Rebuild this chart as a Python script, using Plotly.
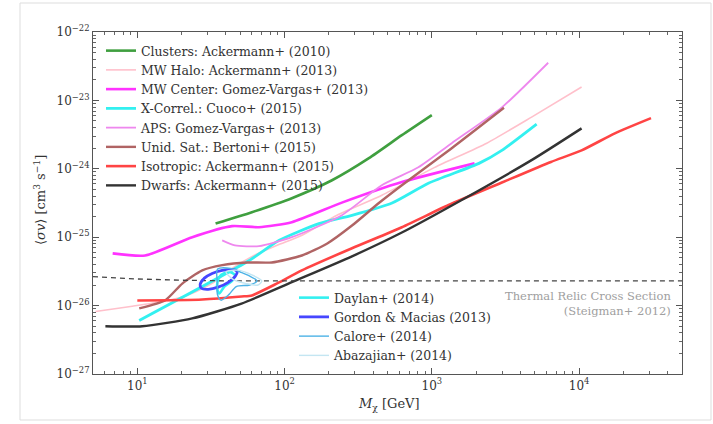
import plotly.graph_objects as go

# ---- Limits on the DM annihilation cross section <sigma v> [cm^3 s^-1] vs mass [GeV] ----
clusters_m = [34, 60, 112, 210, 374, 626, 1000]
clusters_sv = [1.58e-25, 2.32e-25, 3.72e-25, 6.8e-25, 1.43e-24, 3.1e-24, 6.1e-24]

mwhalo_m = [5.2, 9.25, 14.8, 21.8, 32.2, 44, 60.3, 89, 131.5, 227, 458, 1047, 2360, 4760, 10400]
mwhalo_sv = [8.2e-27, 9.8e-27, 1.15e-26, 1.41e-26, 2.11e-26, 3.5e-26, 5.25e-26, 7.6e-26,
             1.07e-25, 2.09e-25, 4.1e-25, 1.05e-24, 2.37e-24, 5.7e-24, 1.57e-23]

mwcenter_m = [6.8, 11.3, 23.6, 44, 67, 112, 245, 626, 1950]
mwcenter_sv = [5.8e-26, 5.4e-26, 1.0e-25, 1.45e-25, 1.4e-25, 1.66e-25, 3.2e-25, 6.4e-25, 1.2e-24]

xcorrel_m = [10.3, 57.5, 92, 171, 287, 537, 955, 2090, 2990, 5150]
xcorrel_sv = [6.07e-27, 4.57e-26, 9.0e-26, 1.58e-25, 2.09e-25, 3.16e-25, 6.2e-25, 1.2e-24, 1.86e-24, 4.5e-24]

aps_m = [37.7, 46, 67, 112, 245, 457, 810, 1365, 2990, 6170]
aps_sv = [9.0e-26, 7.6e-26, 7.4e-26, 1.0e-25, 2.1e-25, 5.75e-25, 1.05e-24, 2.37e-24, 7.9e-24, 3.55e-23]

unidsat_m = [10.3, 15.5, 20.2, 27.6, 37.7, 55.7, 82, 131, 195, 287, 437, 626, 1365, 3090]
unidsat_sv = [9.1e-27, 1.2e-26, 2.1e-26, 3.27e-26, 3.9e-26, 4.27e-26, 4.27e-26, 5.4e-26,
              8.1e-26, 1.48e-25, 3.16e-25, 5.75e-25, 2.0e-24, 7.8e-24]

iso_m = [10, 27.6, 51, 60, 89, 131, 287, 626, 1300, 2990, 6440, 10400, 17500, 30800]
iso_sv = [1.19e-26, 1.23e-26, 1.36e-26, 1.41e-26, 2.11e-26, 3.27e-26, 6.9e-26, 1.4e-25,
          2.95e-25, 6.3e-25, 1.26e-24, 1.86e-24, 3.3e-24, 5.5e-24]

dwarfs_m = [6.07, 10.8, 23.6, 51, 112, 287, 626, 1585, 4790, 10400]
dwarfs_sv = [5.0e-27, 5.0e-27, 6.5e-27, 1.07e-26, 2.2e-26, 5.25e-26, 1.17e-25, 3.47e-25, 1.35e-24, 3.9e-24]

# Galactic-centre excess fits (closed contours)
gordon_m = [26.7, 28.4, 32.2, 37.7, 44, 47.6, 46.2, 41.4, 35.4, 30.3, 27.2, 26.7]
gordon_sv = [2.04e-26, 2.5e-26, 2.95e-26, 3.27e-26, 3.38e-26, 3.16e-26, 2.68e-26, 2.19e-26,
             1.86e-26, 1.73e-26, 1.79e-26, 2.04e-26]

daylan_m = [35, 37, 42, 46, 44, 39, 36, 35, 35]
daylan_sv = [2.2e-26, 2.8e-26, 3.1e-26, 2.8e-26, 2.3e-26, 1.9e-26, 1.5e-26, 1.7e-26, 2.2e-26]

calore_m = [35, 43, 50, 58, 65, 58, 47, 42, 37, 35, 35, 35]
calore_sv = [3.4e-26, 3.5e-26, 3.1e-26, 2.7e-26, 2.3e-26, 2.0e-26, 1.9e-26, 1.46e-26,
             1.2e-26, 1.45e-26, 2.1e-26, 3.4e-26]

abaz_m = [40, 48, 58, 70, 66, 55, 45, 40]
abaz_sv = [3.1e-26, 3.3e-26, 2.9e-26, 2.3e-26, 2.0e-26, 2.1e-26, 2.4e-26, 3.1e-26]

# Thermal relic cross section
relic_m = [5, 10, 20, 40, 100, 1000, 10000, 50000]
relic_sv = [2.65e-26, 2.45e-26, 2.35e-26, 2.3e-26, 2.3e-26, 2.3e-26, 2.3e-26, 2.3e-26]

x_tickvals = [10, 100, 1000, 10000]
x_ticktext = ["10<sup>1</sup>", "10<sup>2</sup>", "10<sup>3</sup>", "10<sup>4</sup>"]
y_tickvals = [1e-27, 1e-26, 1e-25, 1e-24, 1e-23, 1e-22]
y_ticktext = ["10<sup>−27</sup>", "10<sup>−26</sup>", "10<sup>−25</sup>",
              "10<sup>−24</sup>", "10<sup>−23</sup>", "10<sup>−22</sup>"]

FONT = "DejaVu Serif"
fig = go.Figure()

main_series = [
    ("Clusters: Ackermann+ (2010)", clusters_m, clusters_sv, "#3f9f3f", 2.6),
    ("MW Halo: Ackermann+ (2013)", mwhalo_m, mwhalo_sv, "#ffc0cb", 1.6),
    ("MW Center: Gomez-Vargas+ (2013)", mwcenter_m, mwcenter_sv, "#ff33ff", 2.6),
    ("X-Correl.: Cuoco+ (2015)", xcorrel_m, xcorrel_sv, "#33f0f0", 2.8),
    ("APS: Gomez-Vargas+ (2013)", aps_m, aps_sv, "#ee88ee", 1.8),
    ("Unid. Sat.: Bertoni+ (2015)", unidsat_m, unidsat_sv, "#b06464", 2.4),
    ("Isotropic: Ackermann+ (2015)", iso_m, iso_sv, "#ff4444", 2.6),
    ("Dwarfs: Ackermann+ (2015)", dwarfs_m, dwarfs_sv, "#333333", 2.4),
]
for name, m, sv, color, w in main_series:
    fig.add_trace(go.Scatter(x=m, y=sv, mode="lines", name=name,
                             line=dict(color=color, width=w, shape="spline", smoothing=0.6),
                             legend="legend"))

fig.add_trace(go.Scatter(x=relic_m, y=relic_sv, mode="lines", showlegend=False,
                         line=dict(color="#444444", width=1.3, dash="5px,4px")))

excess_series = [
    ("Daylan+ (2014)", daylan_m, daylan_sv, "#33f0f0", 2.6),
    ("Gordon & Macias (2013)", gordon_m, gordon_sv, "#4646ff", 2.8),
    ("Calore+ (2014)", calore_m, calore_sv, "#4db3e6", 1.4),
    ("Abazajian+ (2014)", abaz_m, abaz_sv, "#c4e6f2", 1.4),
]
for name, m, sv, color, w in excess_series:
    fig.add_trace(go.Scatter(x=m, y=sv, mode="lines", name=name,
                             line=dict(color=color, width=w, shape="spline", smoothing=0.8),
                             legend="legend2"))

# plot box: 93..682 px horizontally, 32..374 px vertically
L, R, T, B = 93, 31, 32, 50
W, H = 713, 424
pw, ph = W - L - R, H - T - B
def px(x):
    return (x - L) / pw
def py(y):
    return (H - B - y) / ph

minor_x = [k * 10 ** e for e in range(0, 5) for k in range(2, 10) if 5 <= k * 10 ** e <= 50000]
minor_y = [k * 10.0 ** e for e in range(-27, -22) for k in range(2, 10)]

axis_common = dict(showgrid=False, zeroline=False, showline=True, linecolor="#555555", linewidth=1.2,
                   mirror="allticks", ticks="inside", ticklen=6, tickwidth=1, tickcolor="#555555",
                   tickfont=dict(family=FONT, size=12, color="#333333"))

fig.update_xaxes(type="log", range=[0.699, 4.699], tickmode="array",
                 tickvals=x_tickvals, ticktext=x_ticktext,
                 minor=dict(tickmode="array", tickvals=minor_x, ticks="inside", ticklen=3,
                            tickcolor="#666666", showgrid=False),
                 **axis_common)
fig.update_yaxes(type="log", range=[-27, -22], tickmode="array",
                 tickvals=y_tickvals, ticktext=y_ticktext,
                 minor=dict(tickmode="array", tickvals=minor_y, ticks="inside", ticklen=3,
                            tickcolor="#666666", showgrid=False),
                 **axis_common)

legend_font = dict(family=FONT, size=12.5, color="#333333")
fig.update_layout(
    width=W, height=H,
    margin=dict(l=L, r=R, t=T, b=B),
    paper_bgcolor="white", plot_bgcolor="white",
    font=dict(family=FONT),
    legend=dict(x=px(101), y=py(36), xanchor="left", yanchor="top", bgcolor="rgba(0,0,0,0)",
                font=legend_font, tracegroupgap=0, itemwidth=30),
    legend2=dict(x=px(294), y=py(283), xanchor="left", yanchor="top", bgcolor="rgba(0,0,0,0)",
                 font=legend_font, tracegroupgap=0, itemwidth=30),
    shapes=[dict(type="rect", xref="paper", yref="paper",
                 x0=px(20), x1=px(711), y0=py(420), y1=py(3),
                 line=dict(color="#dddddd", width=1), layer="below")],
    annotations=[
        dict(text="Thermal Relic Cross Section<br>(Steigman+ 2012)", xref="paper", yref="paper",
             x=px(673), y=py(287), xanchor="right", yanchor="top", align="right", showarrow=False,
             font=dict(family=FONT, size=11.5, color="#a0a0a0")),
        dict(text="<i>M</i><sub>χ</sub> [GeV]", xref="paper", yref="paper",
             x=px(389), y=py(405), xanchor="center", yanchor="middle", showarrow=False,
             font=dict(family=FONT, size=13, color="#333333")),
        dict(text="⟨<i>σv</i>⟩ [cm<sup>3</sup> s<sup>−1</sup>]", xref="paper", yref="paper",
             x=px(40), y=py(200), xanchor="center", yanchor="middle", textangle=-90,
             showarrow=False, font=dict(family=FONT, size=13, color="#333333")),
    ],
)

fig.write_html("out.html")
